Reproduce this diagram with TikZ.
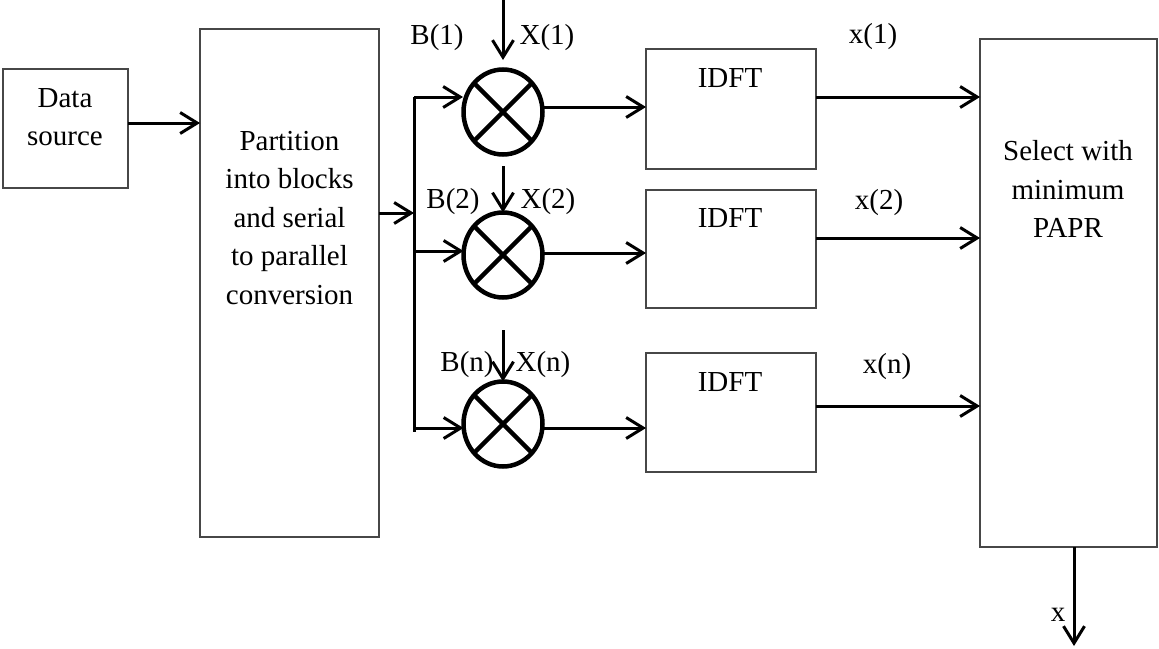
\documentclass[tikz,border=0pt]{standalone}
\usepackage{fontspec}
\setmainfont{Liberation Serif}
\usetikzlibrary{arrows.meta,shapes.geometric,calc}
\begin{document}
\begin{tikzpicture}[x=1pt,y=-1pt,
  box/.style={draw=black!72, line width=2pt, inner sep=0pt, outer sep=0pt},
  txt/.style={font=\fontsize{29}{38.5}\selectfont, align=center, inner sep=0pt},
  arr/.style={line width=3pt, -{Straight Barb[length=17pt,width=21pt]}},
  ln/.style={line width=3pt},
  mult/.style={draw, ellipse, line width=4.5pt, minimum width=79pt, minimum height=85pt, inner sep=0pt, outer sep=0pt},
  cross/.style={line width=4.5pt}]
\useasboundingbox (0,0) rectangle (1159,648);

% boxes
\node[box, minimum width=125pt, minimum height=119pt] (ds) at (65.5,128.5) {};
\node[txt] (dst) at (65,117) {Data\\source};
\node[box, minimum width=179pt, minimum height=508pt] (part) at (289.5,283) {};
\node[txt] (partt) at (289.5,218) {Partition\\into blocks\\and serial\\to parallel\\conversion};
\node[box, minimum width=170pt, minimum height=120pt] (f1) at (731,109) {};
\node[box, minimum width=170pt, minimum height=118pt] (f2) at (731,249) {};
\node[box, minimum width=170pt, minimum height=119pt] (f3) at (731,412.5) {};
\node[txt] (f1t) at (730,78) {IDFT};
\node[txt] (f2t) at (730,218) {IDFT};
\node[txt] (f3t) at (730,382) {IDFT};
\node[box, minimum width=177pt, minimum height=508pt] (sel) at (1068.5,293) {};
\node[txt] (selt) at (1068,189) {Select with\\minimum\\PAPR};

% multipliers
\node[mult] (m1) at (503,112) {};
\node[mult] (m2) at (503,255) {};
\node[mult] (m3) at (503,424) {};
\foreach \m in {m1,m2,m3}{
  \draw[cross] (\m.45) -- (\m.225);
  \draw[cross] (\m.135) -- (\m.315);
}

% data source to partition
\draw[arr] (ds.east |- 0,123) -- (part.west |- 0,123);

% bus
\coordinate (b1) at (414,97);
\coordinate (b2) at (414,251);
\coordinate (b3) at (414,428);
\coordinate (bend) at (414,432);
\draw[ln] (b1) -- (bend);
\draw[arr] (part.east |- 0,213) -- (414,213);
\draw[arr] (b1) -- (463,97);
\draw[arr] (b2) -- (m2.west |- b2);
\draw[arr] (b3) -- (m3.west |- b3);

% X inputs
\coordinate (x1s) at (503,0);
\coordinate (x2s) at (503,166);
\coordinate (x3s) at (503,330);
\draw[arr] (x1s) -- (503,60);
\draw[arr] (x2s) -- (m2.north);
\draw[arr] (x3s) -- (m3.north);

% multipliers to IDFT
\draw[arr] ($(m1.east)+(0,-5)$) -- (f1.west |- 0,107);
\draw[arr] ($(m2.east)+(0,-2)$) -- (f2.west |- 0,253);
\draw[arr] (m3.east |- 0,428) -- (f3.west |- 0,428);

% IDFT to select
\draw[arr] (f1.east |- 0,97) -- (sel.west |- 0,97);
\draw[arr] (f2.east |- 0,238) -- (sel.west |- 0,238);
\draw[arr] (f3.east |- 0,406) -- (sel.west |- 0,406);

% output
\coordinate (out) at (1074,646);
\draw[arr] (sel.south -| out) -- (out);

% labels
\node[txt] (lb1) at (437,38) {B(1)};
\node[txt] (lx1) at (547,38) {X(1)};
\node[txt] (lb2) at (453,202) {B(2)};
\node[txt] (lx2) at (548,202) {X(2)};
\node[txt] (lb3) at (467,365) {B(n)};
\node[txt] (lx3) at (543,365) {X(n)};
\node[txt] (ly1) at (873,37) {x(1)};
\node[txt] (ly2) at (879,203) {x(2)};
\node[txt] (ly3) at (887,367) {x(n)};
\node[txt] (lx) at (1058,615) {x};
\end{tikzpicture}
\end{document}
